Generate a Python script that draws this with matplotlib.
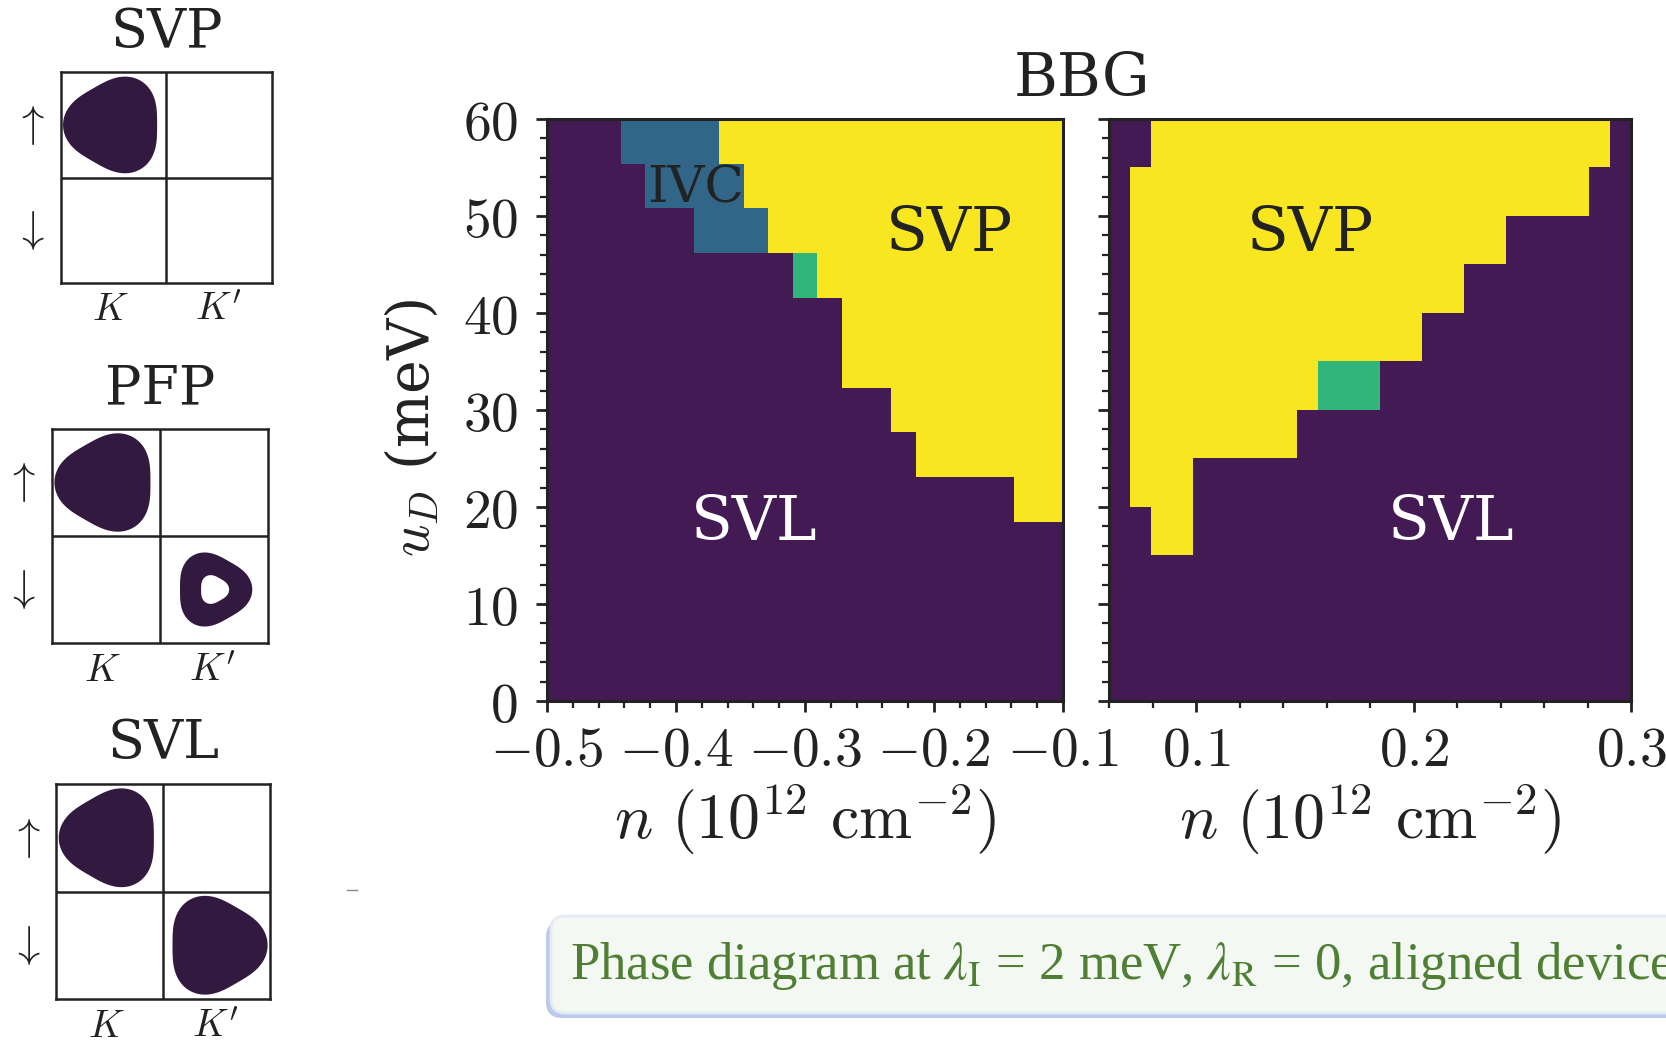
import numpy as np
import matplotlib.pyplot as plt
from matplotlib.colors import ListedColormap
from matplotlib.patches import FancyBboxPatch, PathPatch, Polygon
from matplotlib.path import Path
from matplotlib.ticker import MultipleLocator, FuncFormatter

plt.rcParams['font.family'] = ['DejaVu Serif']
plt.rcParams['mathtext.fontset'] = 'cm'

# phase codes: SVL=0, IVC=1, PFP=2, SVP=3
phase_code = {'L': 0, 'I': 1, 'F': 2, 'P': 3}
phase_colors = ['#431a53', '#316689', '#30b67a', '#f8e620']

# left panel: n from -0.5 to -0.1 (21 pts), u_D from 60 (top row) down to 0
left_rows = [
    'LLLIIIIPPPPPPPPPPPPPP',
    'LLLLIIIIPPPPPPPPPPPPP',
    'LLLLLLIIIPPPPPPPPPPPP',
    'LLLLLLLLLLFPPPPPPPPPP',
    'LLLLLLLLLLLLPPPPPPPPP',
    'LLLLLLLLLLLLPPPPPPPPP',
    'LLLLLLLLLLLLLLPPPPPPP',
    'LLLLLLLLLLLLLLLPPPPPP',
    'LLLLLLLLLLLLLLLLLLLPP',
    'LLLLLLLLLLLLLLLLLLLLL',
    'LLLLLLLLLLLLLLLLLLLLL',
    'LLLLLLLLLLLLLLLLLLLLL',
    'LLLLLLLLLLLLLLLLLLLLL',
]
# right panel: n from 0.06 to 0.30 (25 pts), 12 rows of u_D
right_rows = [
    'LLPPPPPPPPPPPPPPPPPPPPPPL',
    'LPPPPPPPPPPPPPPPPPPPPPPLL',
    'LPPPPPPPPPPPPPPPPPPLLLLLL',
    'LPPPPPPPPPPPPPPPPLLLLLLLL',
    'LPPPPPPPPPPPPPPLLLLLLLLLL',
    'LPPPPPPPPPFFFLLLLLLLLLLLL',
    'LPPPPPPPPLLLLLLLLLLLLLLLL',
    'LPPPLLLLLLLLLLLLLLLLLLLLL',
    'LLPPLLLLLLLLLLLLLLLLLLLLL',
    'LLLLLLLLLLLLLLLLLLLLLLLLL',
    'LLLLLLLLLLLLLLLLLLLLLLLLL',
    'LLLLLLLLLLLLLLLLLLLLLLLLL',
]
n_left = (-0.5, -0.1)
n_right = (0.06, 0.30)
u_range = (0, 60)
left_xticks = [-0.5, -0.4, -0.3, -0.2, -0.1]
right_xticks = [0.1, 0.2, 0.3]
yticks = [0, 10, 20, 30, 40, 50, 60]

# schematic Fermi pockets: (valley column, spin row, type)
schematics = {
    'SVP': [(0, 1, 'full')],
    'PFP': [(0, 1, 'full'), (1, 0, 'ring')],
    'SVL': [(0, 1, 'full'), (1, 0, 'full')],
}

pocket_color = '#31193f'
text_dark = '#222222'
cmap = ListedColormap(phase_colors)


def to_grid(rows):
    return np.array([[phase_code[c] for c in r] for r in rows])


def pocket(cx, cy, R, sign, warp=0.095):
    t = np.linspace(0, 2 * np.pi, 240)
    r = R * (1 + sign * warp * np.cos(3 * t))
    return np.column_stack([cx + r * np.cos(t), cy + r * np.sin(t)])


fig = plt.figure(figsize=(16.66, 10.43), dpi=100)

# background layer in pixel units for the caption box
bg = fig.add_axes([0, 0, 1, 1])
bg.set_xlim(0, 1666)
bg.set_ylim(1043, 0)
bg.axis('off')
bg.add_patch(FancyBboxPatch((546, 921), 1200, 97, boxstyle='round,pad=0,rounding_size=16',
                            facecolor='#bccbea', edgecolor='none'))
bg.add_patch(FancyBboxPatch((551, 916), 1200, 97, boxstyle='round,pad=0,rounding_size=14',
                            facecolor='#f4f8f2', edgecolor='#e4ebf5', linewidth=2))
bg.text(570, 966, r'Phase diagram at $\lambda_\mathrm{I}$ = 2 meV, $\lambda_\mathrm{R}$ = 0, aligned device',
        family='Liberation Serif', math_fontfamily='stix', fontsize=38, color='#4f7f35',
        ha='left', va='center')
bg.plot([347, 357], [890, 890], color='#888888', lw=1)

# phase diagrams
ax1 = fig.add_axes([0.3283, 0.3279, 0.3097, 0.558])
ax2 = fig.add_axes([0.6657, 0.3279, 0.3133, 0.558])
ax1.imshow(to_grid(left_rows), cmap=cmap, vmin=-0.5, vmax=3.5, aspect='auto',
           interpolation='nearest', extent=[n_left[0], n_left[1], u_range[0], u_range[1]])
ax2.imshow(to_grid(right_rows), cmap=cmap, vmin=-0.5, vmax=3.5, aspect='auto',
           interpolation='nearest', extent=[n_right[0], n_right[1], u_range[0], u_range[1]])

math_fmt = FuncFormatter(lambda v, p: r'$%g$' % round(v, 3))
for ax, xt in [(ax1, left_xticks), (ax2, right_xticks)]:
    ax.set_xticks(xt)
    ax.set_yticks(yticks)
    ax.xaxis.set_minor_locator(MultipleLocator(0.02))
    ax.yaxis.set_minor_locator(MultipleLocator(2))
    ax.xaxis.set_major_formatter(math_fmt)
    ax.yaxis.set_major_formatter(math_fmt)
    ax.tick_params(which='major', direction='out', length=8, width=2, labelsize=40,
                   color=text_dark, labelcolor=text_dark, pad=8)
    ax.tick_params(axis='y', which='major', pad=13)
    ax.tick_params(which='minor', direction='out', length=5, width=1.6, color=text_dark)
    for s in ax.spines.values():
        s.set_linewidth(2.2)
        s.set_color(text_dark)
    ax.set_xlabel(r'$n\ (10^{12}\ \mathrm{cm}^{-2})$', fontsize=46, color=text_dark, labelpad=3)
ax2.tick_params(labelleft=False)
ax1.set_ylabel(r'$u_D$ (meV)', fontsize=41, color=text_dark)
ax1.yaxis.set_label_coords(-0.205, 0.47)

ax1.text(-0.3845, 52.8, 'IVC', fontsize=37, color=text_dark, ha='center', va='center')
ax1.text(-0.188, 48.1, 'SVP', fontsize=44, color=text_dark, ha='center', va='center')
ax1.text(-0.339, 18.4, 'SVL', fontsize=44, color='white', ha='center', va='center')
ax2.text(0.1524, 48.1, 'SVP', fontsize=44, color=text_dark, ha='center', va='center')
ax2.text(0.2172, 18.4, 'SVL', fontsize=44, color='white', ha='center', va='center')
fig.text(0.6495, 0.924, 'BBG', fontsize=43, color=text_dark, ha='center', va='center')

# schematic Fermi-pocket panels
boxes = {
    'SVP': [0.0364, 0.729, 0.1269, 0.2016],
    'PFP': [0.0312, 0.3835, 0.1295, 0.2052],
    'SVL': [0.0338, 0.0422, 0.1283, 0.2061],
}
for name, rect in boxes.items():
    ax = fig.add_axes(rect)
    ax.set_xlim(0, 2)
    ax.set_ylim(0, 2)
    ax.set_xticks([])
    ax.set_yticks([])
    for s in ax.spines.values():
        s.set_linewidth(1.8)
        s.set_color(text_dark)
    ax.axvline(1, color=text_dark, lw=1.8)
    ax.axhline(1, color=text_dark, lw=1.8)
    for col, row, kind in schematics[name]:
        sign = -1 if col == 0 else 1
        cx = col + (0.51 if col == 0 else 0.49)
        cy = row + 0.5
        if kind == 'full':
            ax.add_patch(Polygon(pocket(cx, cy, 0.445, sign), closed=True,
                                 facecolor=pocket_color, edgecolor='none'))
        else:
            outer = pocket(cx, cy, 0.335, sign)
            inner = pocket(cx + 0.01, cy, 0.13, sign)[::-1]
            path = Path.make_compound_path(Path(outer, closed=True), Path(inner, closed=True))
            ax.add_patch(PathPatch(path, facecolor=pocket_color, edgecolor='none'))
    ax.text(1, 2.37, name, fontsize=39, color=text_dark, ha='center', va='center', clip_on=False)
    ax.text(-0.29, 1.5, r'$\uparrow$', fontsize=32, color=text_dark, ha='center', va='center')
    ax.text(-0.29, 0.5, r'$\downarrow$', fontsize=32, color=text_dark, ha='center', va='center')
    ax.text(0.47, -0.26, r'$K$', fontsize=28, color=text_dark, ha='center', va='center')
    ax.text(1.49, -0.26, r"$K'$", fontsize=28, color=text_dark, ha='center', va='center')

fig.savefig('out.png', dpi=100, facecolor='white')
